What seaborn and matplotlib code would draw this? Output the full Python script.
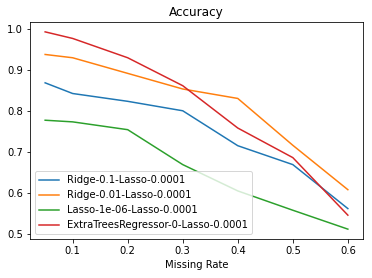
import matplotlib
matplotlib.use("Agg")
import matplotlib.pyplot as plt
import seaborn as sns
import pandas as pd

missing_rate = [0.05, 0.1, 0.2, 0.3, 0.4, 0.5, 0.6]
ridge_01 = [0.869, 0.843, 0.824, 0.801, 0.716, 0.670, 0.563]
ridge_001 = [0.938, 0.930, 0.892, 0.854, 0.831, 0.717, 0.609]
lasso_1e6 = [0.778, 0.774, 0.755, 0.670, 0.606, 0.559, 0.513]
extratrees = [0.993, 0.977, 0.930, 0.862, 0.759, 0.687, 0.547]
labels = ["Ridge-0.1-Lasso-0.0001", "Ridge-0.01-Lasso-0.0001",
          "Lasso-1e-06-Lasso-0.0001", "ExtraTreesRegressor-0-Lasso-0.0001"]

rows = []
for lab, vals in zip(labels, [ridge_01, ridge_001, lasso_1e6, extratrees]):
    for x, v in zip(missing_rate, vals):
        rows.append({"Missing Rate": x, "Accuracy": v, "Method": lab})
df = pd.DataFrame(rows)

plt.rcParams["font.family"] = ["DejaVu Sans"]
fig = plt.figure(figsize=(372 / 72, 278 / 72), dpi=72)
ax = fig.add_axes([30 / 372, 1 - 239 / 278, 333 / 372, 217 / 278])
sns.lineplot(data=df, x="Missing Rate", y="Accuracy", hue="Method",
             palette=sns.color_palette("tab10", 4), ax=ax, linewidth=1.5)
ax.set_title("Accuracy", fontsize=12)
ax.set_ylabel("")
ax.set_xlabel("Missing Rate", fontsize=10)
ax.tick_params(labelsize=10)
ax.legend(loc="lower left", fontsize=10, title=None)
fig.savefig("out.png", dpi=72)
